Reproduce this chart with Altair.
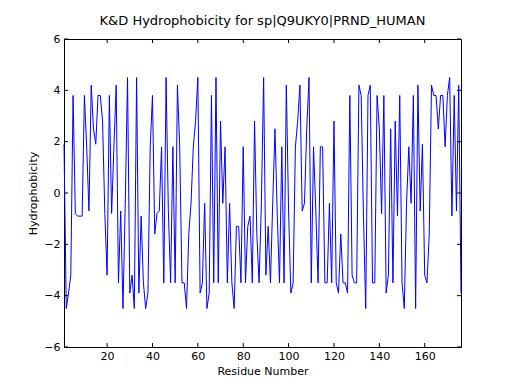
import altair as alt
import pandas as pd

# Kyte & Doolittle hydrophobicity per residue
hydro = [
    1.9, -4.5, -3.9, -3.2, 3.8, -0.8, -0.9, -0.9, -0.9, 3.8,
    1.8, -0.7, 4.2, 2.5, 1.9, 3.8, 3.8, 2.8, -0.8, -3.2,
    3.8, -0.8, 1.8, 4.2, -3.5, -0.7, -4.5, -0.4, 4.5, -3.9,
    -3.2, -4.5, 4.5, -3.9, -0.9, -3.5, -4.5, -3.9, 1.8, 3.8,
    -1.6, -0.8, -0.7, 1.8, -3.5, 4.5, -0.7, -3.5, 1.8, -3.5,
    4.2, 1.8, -3.5, -3.5, -4.5, -1.6, -0.4, 1.8, 2.8, 4.5,
    -3.9, -3.5, -0.4, -4.5, -3.9, 3.8, -3.5, 4.5, -3.5, 2.8,
    -0.4, 1.8, -3.5, -0.4, -3.5, -4.5, -1.3, -1.3, -3.5, 1.8,
    -3.5, -1.3, -0.9, -3.5, 2.8, -1.6, -3.5, -0.4, 4.5, -3.2,
    -1.3, -3.5, -0.4, 2.5, -0.8, -3.5, 1.8, -3.5, 4.2, -0.7,
    -3.9, -3.5, 1.8, 2.8, 4.2, -0.7, -0.4, 2.5, 4.5, -3.5,
    1.8, -0.7, -3.5, 1.8, 1.8, -3.5, -3.5, -0.4, -3.5, 2.8,
    -3.5, -3.9, -1.6, -3.5, -3.5, -3.9, 3.8, -3.2, -3.5, -3.5,
    4.2, 3.8, -0.9, -4.5, 3.8, 4.2, -3.5, -3.5, 3.8, 2.5,
    -0.8, 3.8, -3.9, -3.2, 2.5, -3.5, 2.8, -0.9, 3.8, -3.5,
    -4.5, -0.4, 1.8, -0.4, 3.8, -4.5, 4.2, -0.7, 1.9, -3.2,
    -3.5, -1.6, 4.2, 3.8, 3.8, 2.5, 3.8, 3.8, 1.8, 3.8,
    4.5, -0.9, 3.8, -0.7, 4.2, -3.9,
]
residues = list(range(1, len(hydro) + 1))

x_ticks = [20, 40, 60, 80, 100, 120, 140, 160]
y_ticks = [-6, -4, -2, 0, 2, 4, 6]

W, H = 397, 308
FONT = "DejaVu Sans"

df = pd.DataFrame({"residue": residues, "hydro": hydro})
xt = pd.DataFrame({"t": x_ticks})
yt = pd.DataFrame({"t": y_ticks})

xscale = alt.Scale(domain=[1, 176], nice=False, zero=False)
yscale = alt.Scale(domain=[-6, 6], nice=False, zero=False)

line = alt.Chart(df).mark_line(color="#0000ff", strokeWidth=1).encode(
    x=alt.X("residue:Q", scale=xscale,
            axis=alt.Axis(values=x_ticks, title="Residue Number", ticks=False, tickSize=0,
                          domain=False, grid=False, labelPadding=3, titlePadding=4,
                          labelFontSize=11, titleFontSize=11, labelFont=FONT, titleFont=FONT,
                          labelColor="black", titleColor="black", titleFontWeight="normal")),
    y=alt.Y("hydro:Q", scale=yscale,
            axis=alt.Axis(values=y_ticks, title="Hydrophobicity", ticks=False, tickSize=0,
                          domain=False, grid=False, labelPadding=4, titlePadding=5,
                          labelFontSize=11, titleFontSize=11, labelFont=FONT, titleFont=FONT,
                          labelColor="black", titleColor="black", titleFontWeight="normal")),
)

tick_len = 4
bx = alt.Chart(xt).mark_rule(color="black", strokeWidth=1).encode(
    x=alt.X("t:Q", scale=xscale), y=alt.value(H), y2=alt.value(H - tick_len))
tx = alt.Chart(xt).mark_rule(color="black", strokeWidth=1).encode(
    x=alt.X("t:Q", scale=xscale), y=alt.value(0), y2=alt.value(tick_len))
ly = alt.Chart(yt).mark_rule(color="black", strokeWidth=1).encode(
    y=alt.Y("t:Q", scale=yscale), x=alt.value(0), x2=alt.value(tick_len))
ry = alt.Chart(yt).mark_rule(color="black", strokeWidth=1).encode(
    y=alt.Y("t:Q", scale=yscale), x=alt.value(W), x2=alt.value(W - tick_len))

chart = alt.layer(line, bx, tx, ly, ry).properties(
    width=W, height=H,
    title=alt.TitleParams("K&D Hydrophobicity for sp|Q9UKY0|PRND_HUMAN",
                          font=FONT, fontSize=13, fontWeight="normal", color="black",
                          anchor="middle", offset=5),
    autosize=alt.AutoSizeParams(type="none"),
    padding={"left": 56, "top": 31, "right": 40, "bottom": 38},
    background="white",
).configure_view(stroke="black", strokeWidth=1)

chart.save("out.html", embed_options={"renderer": "svg", "actions": False})
